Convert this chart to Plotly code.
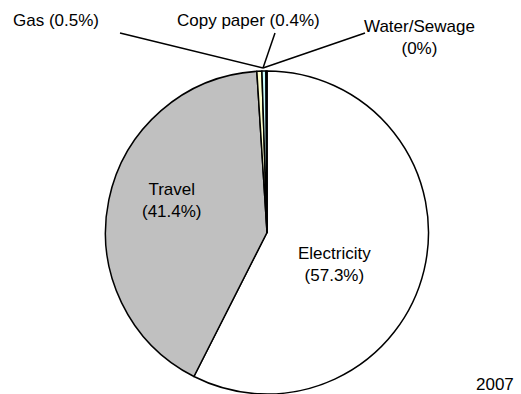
import plotly.graph_objects as go

W, H = 521, 394

categories = ["Electricity", "Travel", "Gas", "Copy paper", "Water/Sewage"]
shares = [57.3, 41.4, 0.5, 0.4, 0.1]
share_labels = ["57.3%", "41.4%", "0.5%", "0.4%", "0%"]
slice_colors = ["#FFFFFF", "#C0C0C0", "#FFFFCC", "#CCFFFF", "#660066"]
year_label = "2007"

FONT = dict(family="Liberation Sans, Arial, sans-serif", size=17, color="#000000")


def px(x):
    return x / W


def py(y):
    return 1 - y / H


fig = go.Figure(
    go.Pie(
        labels=categories,
        values=shares,
        sort=False,
        direction="clockwise",
        rotation=0,
        marker=dict(colors=slice_colors, line=dict(color="#000000", width=1.5)),
        textinfo="none",
        hoverinfo="label+percent",
        showlegend=False,
        domain=dict(x=[px(105), px(429)], y=[0, py(71)]),
    )
)

# Label placement (pixel centres) for each slice
label_pos = {
    "Electricity": (334, 264, True),
    "Travel": (172, 200, True),
    "Gas": (56, 21, False),
    "Copy paper": (248, 20, False),
}
annotations = []
for name, val in zip(categories, share_labels):
    if name in label_pos:
        x, y, two_line = label_pos[name]
        txt = f"{name}<br>({val})" if two_line else f"{name} ({val})"
        annotations.append(dict(x=px(x), y=py(y), xref="paper", yref="paper",
                                text=txt, showarrow=False, font=FONT,
                                xanchor="center", yanchor="middle"))
annotations.append(dict(x=px(419), y=py(37), xref="paper", yref="paper",
                        text=f"{categories[4]}<br>({share_labels[4]})",
                        showarrow=False, font=FONT, xanchor="center", yanchor="middle"))
annotations.append(dict(x=px(495), y=py(384), xref="paper", yref="paper",
                        text=year_label, showarrow=False, font=FONT,
                        xanchor="center", yanchor="middle"))

# Leader lines from the small slices to their labels
hub = (263, 68)
leader_ends = [(120, 33), (275, 33), (365, 33)]
shapes = [dict(type="line", xref="paper", yref="paper",
               x0=px(hub[0]), y0=py(hub[1]), x1=px(ex), y1=py(ey),
               line=dict(color="#000000", width=1.5))
          for ex, ey in leader_ends]

fig.update_layout(
    width=W, height=H,
    margin=dict(l=0, r=0, t=0, b=0),
    paper_bgcolor="#FFFFFF",
    plot_bgcolor="#FFFFFF",
    annotations=annotations,
    shapes=shapes,
    font=FONT,
)

fig.write_html("out.html")
